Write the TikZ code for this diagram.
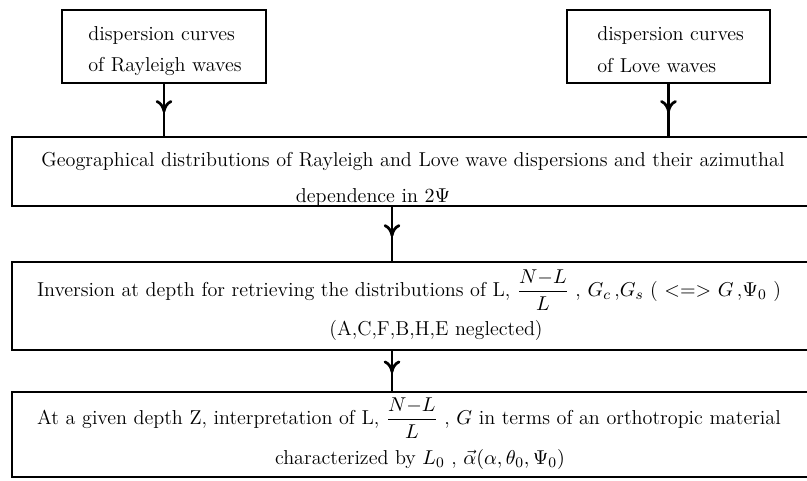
\documentclass[tikz,border=0pt]{standalone}
\usepackage{amsmath}
\usetikzlibrary{arrows.meta,decorations.markings,fit}

\begin{document}
\begin{tikzpicture}[x=0.0192cm, y=-0.0192cm,
	font=\fontsize{11}{13}\selectfont,
	flowbox/.style={draw, line width=0.9pt, inner sep=0pt},
	flowtext/.style={inner sep=0pt},
	flowarrow/.style={line width=1.5pt, postaction={decorate},
		decoration={markings, mark=at position 0.55 with {\arrow{Computer Modern Rightarrow[length=2.4mm,width=3.2mm]}}}}]
	\useasboundingbox (0,0) rectangle (807,480);
	% input boxes
	\node[flowbox, fit={(62,10) (266,83)}] (ray) {};
	\node[flowtext, anchor=west] (ray1) at (88,35) {dispersion curves};
	\node[flowtext, anchor=west] (ray2) at (88,66) {of Rayleigh waves};
	\node[flowbox, fit={(567,10) (770,83)}] (love) {};
	\node[flowtext, anchor=west] (love1) at (597,35) {dispersion curves};
	\node[flowtext, anchor=west] (love2) at (597,66) {of Love waves};
	% geographical distributions
	\node[flowbox, fit={(12,137) (815,206)}] (geo) {};
	\node[flowtext] (geo1) at (413,161) {Geographical distributions of Rayleigh and Love wave dispersions and their azimuthal};
	\node[flowtext] (geo2) at (373,197) {dependence in $2\Psi$};
	% inversion at depth
	\node[flowbox, fit={(12,262) (815,350)}] (inv) {};
	\node[flowtext] (inv1) at (409,290) {Inversion at depth for retrieving the distributions of L, $\dfrac{N{-}L}{L}$ , $G_c$\,,$G_s$ ( ${<}{=}{>}$ $G$\,,$\Psi_0$ )};
	\node[flowtext] (inv2) at (436,330) {(A,C,F,B,H,E neglected)};
	% interpretation
	\node[flowbox, fit={(12,392) (815,477)}] (intp) {};
	\node[flowtext] (intp1) at (409,418) {At a given depth Z, interpretation of L, $\dfrac{N{-}L}{L}$ , $G$ in terms of an orthotropic material};
	\node[flowtext] (intp2) at (420,459) {characterized by $L_0$ , $\vec{\alpha}(\alpha,\theta_0,\Psi_0)$};
	% arrows
	\coordinate (axis) at (392,0);
	\draw[flowarrow] (ray.south) -- (ray.south |- geo.north);
	\draw[flowarrow] (love.south) -- (love.south |- geo.north);
	\draw[flowarrow] (axis |- geo.south) -- (axis |- inv.north);
	\draw[flowarrow] (axis |- inv.south) -- (axis |- intp.north);
\end{tikzpicture}
\end{document}
